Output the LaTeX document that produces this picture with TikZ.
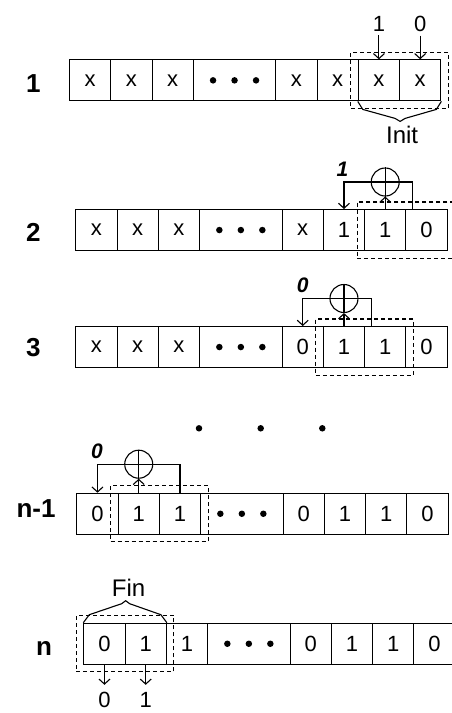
\documentclass[tikz,border=0pt]{standalone}
\usepackage{fontspec}
\setmainfont{Liberation Sans}
\usetikzlibrary{arrows.meta,fit,calc}
\tikzset{
  cellbox/.style={draw, line width=1.1pt, minimum height=41pt, inner sep=0pt, anchor=north west, font=\fontsize{22}{22}\selectfont},
  dashbox/.style={draw, dash pattern=on 4pt off 3pt, line width=1.1pt, inner sep=7pt},
  wire/.style={line width=1.1pt},
  tip/.style={wire, -{Straight Barb[length=5pt,width=11pt]}},
  xorgate/.style={circle, draw, line width=1.1pt, minimum size=28pt, inner sep=0pt},
  rowlabel/.style={font=\fontsize{26}{26}\selectfont\bfseries},
  fbk/.style={font=\fontsize{21}{21}\selectfont\bfseries\itshape},
  iolabel/.style={font=\fontsize{22}{22}\selectfont},
  biglabel/.style={font=\fontsize{24}{24}\selectfont},
  dotmark/.style={fill, circle, minimum size=6.5pt, inner sep=0pt}
}
\newcommand\regrow[4]{%
  \foreach \cellval [count=\i] in {#4} {%
    \pgfmathtruncatemacro\uu{\i<=4 ? \i-1 : \i}%
    \pgfmathtruncatemacro\ww{\i==4 ? 2 : 1}%
    \node[cellbox, minimum width=\ww*41.25pt] (#1c\i) at ({#2+\uu*41.25},#3) {\cellval};
  }%
  \node[dotmark] (#1d1) at ($(#1c4.center)+(-21.5,0)$) {};
  \node[dotmark] (#1d2) at (#1c4.center) {};
  \node[dotmark] (#1d3) at ($(#1c4.center)+(21.5,0)$) {};
}
\begin{document}
\begin{tikzpicture}[x=1pt,y=-1pt]
\clip (0,0) rectangle (452,713);
\fill[white] (0,0) rectangle (452,713);

% row labels
\node[rowlabel] (l1) at (33.3,83.5) {1};
\node[rowlabel] (l2) at (33.3,232) {2};
\node[rowlabel] (l3) at (33.3,348) {3};
\node[rowlabel] (l4) at (36,509) {n-1};
\node[rowlabel] (l5) at (44,648) {n};

% ---------- row 1
\regrow{a}{69}{59.3}{x,x,x,{},x,x,x,x}
\node[dashbox, fit=(ac7)(ac8)] (abox) {};
\node[iolabel] (in1) at ($(ac7.north)+(0,-35)$) {1};
\node[iolabel] (in0) at ($(ac8.north)+(0,-35)$) {0};
\draw[tip] (in1.south) -- (ac7.north);
\draw[tip] (in0.south) -- (ac8.north);
\draw[wire] (ac7.south west) -- ++(5,8) -- ($(ac7.south east)+(-5,17)$) -- ($(ac7.south east)+(0,20)$) -- ($(ac7.south east)+(5,17)$) -- ($(ac8.south east)+(-5,8)$) -- (ac8.south east);
\node[biglabel] (init) at ($(ac7.south east)+(2,33)$) {Init};

% ---------- row 2
\regrow{b}{75.3}{209}{x,x,x,{},x,1,1,0}
\node[dashbox, fit=(bc7)(bc8)] (bbox) {};
\node[xorgate] (bx) at ($(bc7.north)+(0,-27)$) {};
\coordinate (btap) at ($(bc8.north west)+(7,0)$);
\draw[tip] (btap) |- (bx.east) -- (bx.west) -| (bc6.north);
\draw[wire] (bx.north) -- (bx.south);
\draw[tip] (bc7.north) -- (bx.south);
\node[fbk] (bfb) at ($(bc6.north)+(-1.5,-40)$) {1};

% ---------- row 3
\regrow{c}{75.3}{326}{x,x,x,{},0,1,1,0}
\node[dashbox, fit=(cc6)(cc7)] (cbox) {};
\node[xorgate] (cx) at ($(cc6.north)+(0,-27.5)$) {};
\coordinate (ctap) at ($(cc7.north west)+(7,0)$);
\draw[tip] (ctap) |- (cx.east) -- (cx.west) -| (cc5.north);
\draw[wire] (cx.north) -- (cx.south);
\draw[tip] (cc6.north) -- (cx.south);
\node[fbk] (cfb) at ($(cc5.north)+(0,-41)$) {0};

% ---------- vertical dots
\node[dotmark] (v1) at (199,428.3) {};
\node[dotmark] (v2) at (260.7,428.3) {};
\node[dotmark] (v3) at (322.3,428.3) {};

% ---------- row n-1
\regrow{d}{76.3}{492.7}{0,1,1,{},0,1,1,0}
\node[dashbox, fit=(dc2)(dc3)] (dbox) {};
\node[xorgate] (dx) at ($(dc2.north)+(0,-28.5)$) {};
\draw[tip] (dc3.north) |- (dx.east) -- (dx.west) -| (dc1.north);
\draw[wire] (dx.north) -- (dx.south);
\draw[tip] (dc2.north) -- (dx.south);
\node[fbk] (dfb) at ($(dc1.north)+(-0.5,-41)$) {0};

% ---------- row n
\regrow{e}{83.3}{622.7}{0,1,1,{},0,1,1,0}
\node[dashbox, fit=(ec1)(ec2)] (ebox) {};
\draw[wire] (ec1.north west) -- ++(6,-8) -- ($(ec1.north east)+(-4,-19)$) -- ($(ec1.north east)+(0,-22)$) -- ($(ec1.north east)+(4,-19)$) -- ($(ec2.north east)+(-6,-8)$) -- (ec2.north east);
\node[biglabel] (fin) at ($(ec1.north east)+(3,-35)$) {Fin};
\coordinate (o0) at ($(ec1.south)+(0,20)$);
\coordinate (o1) at ($(ec2.south)+(0,20)$);
\draw[tip] (ec1.south) -- (o0);
\draw[tip] (ec2.south) -- (o1);
\node[iolabel, inner sep=1pt] (out0) at ($(ec1.south)+(0,35)$) {0};
\node[iolabel, inner sep=1pt] (out1) at ($(ec2.south)+(0,35)$) {1};
\end{tikzpicture}
\end{document}
